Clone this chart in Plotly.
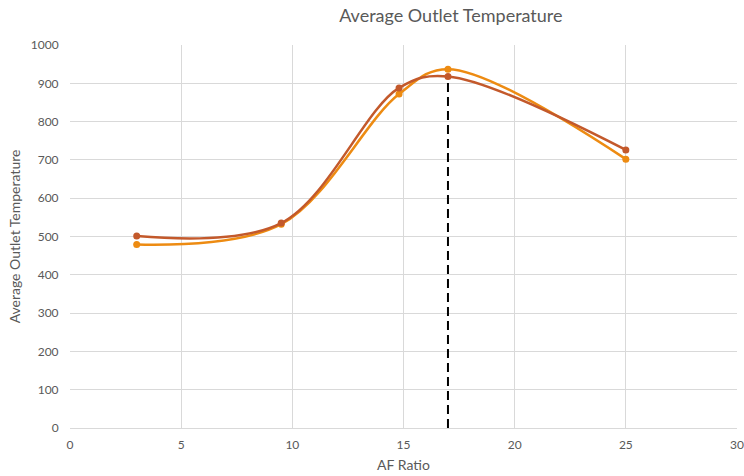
import plotly.graph_objects as go

af_ratio = [3, 9.5, 14.8, 17, 25]
series_dark = [501, 535, 888, 918, 726]
series_orange = [479, 532, 872, 937, 702]
marker_x = [17, 17]
marker_y = [0, 918]

x_ticks = [0, 5, 10, 15, 20, 25, 30]
y_ticks = [0, 100, 200, 300, 400, 500, 600, 700, 800, 900, 1000]

FONT = "Lato, Open Sans, sans-serif"
TXT = "#595959"
GRID = "#d9d9d9"

fig = go.Figure()
fig.add_trace(go.Scatter(
    x=marker_x, y=marker_y, mode="lines",
    line=dict(color="black", width=2, dash="9px,5px"),
    showlegend=False, hoverinfo="skip"))
fig.add_trace(go.Scatter(
    x=af_ratio, y=series_orange, mode="lines+markers",
    line=dict(color="#ED8B12", width=2.5, shape="spline", smoothing=1),
    marker=dict(color="#ED8B12", size=7), showlegend=False))
fig.add_trace(go.Scatter(
    x=af_ratio, y=series_dark, mode="lines+markers",
    line=dict(color="#C3592B", width=2.5, shape="spline", smoothing=1),
    marker=dict(color="#C3592B", size=7), showlegend=False))

fig.update_layout(
    width=744, height=476,
    margin=dict(l=70, r=7, t=45, b=48, autoexpand=False),
    paper_bgcolor="white", plot_bgcolor="white",
    font=dict(family=FONT, color=TXT, size=12),
    title=dict(text="Average Outlet Temperature", x=0.606, xanchor="center",
               y=0.966, yanchor="middle",
               font=dict(family=FONT, size=18, color=TXT)),
)
fig.update_xaxes(
    range=[0, 30], tickvals=x_ticks, showgrid=True, gridcolor=GRID, gridwidth=1,
    zeroline=False, showline=True, linecolor=GRID, linewidth=1, automargin=False,
    ticks="outside", ticklen=6, tickcolor="rgba(0,0,0,0)",
    title=dict(text="AF Ratio", font=dict(size=14, color=TXT), standoff=8),
    tickfont=dict(size=12, color=TXT))
fig.update_yaxes(
    range=[0, 1000], tickvals=y_ticks, showgrid=True, gridcolor=GRID, gridwidth=1,
    zeroline=False, showline=False, automargin=False,
    ticks="outside", ticklen=8, tickcolor="rgba(0,0,0,0)",
    title=dict(text="Average Outlet Temperature", font=dict(size=14, color=TXT), standoff=6),
    tickfont=dict(size=12, color=TXT))

fig.write_html("out.html")
